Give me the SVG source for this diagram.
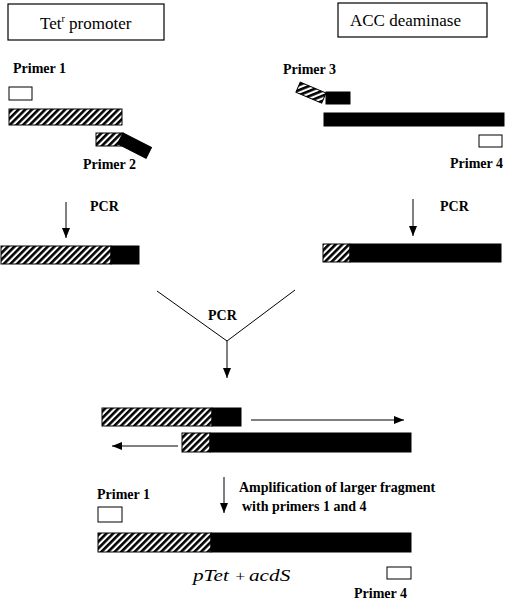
<svg xmlns="http://www.w3.org/2000/svg" width="505" height="600" viewBox="0 0 505 600">
<defs>
<pattern id="hatch" patternUnits="userSpaceOnUse" width="4.7" height="4.7" patternTransform="rotate(45)">
<rect x="0" y="0" width="4.7" height="4.7" fill="#fff"/>
<rect x="0" y="0" width="2.6" height="4.7" fill="#000"/>
</pattern>
<marker id="ah" markerUnits="userSpaceOnUse" markerWidth="10" markerHeight="10" viewBox="0 0 10 10" refX="10" refY="5" orient="auto">
<path d="M0,1 L10,5 L0,9 Z" fill="#000"/>
</marker>
<style>
.lbl{font-family:"Liberation Serif","Times New Roman","DejaVu Serif",serif;fill:#000}
.b{font-weight:bold;font-size:14px}
.box{fill:#fff;stroke:#000;stroke-width:1.2}
.h{fill:url(#hatch);stroke:#000;stroke-width:1}
.k{fill:#000;stroke:#000;stroke-width:1}
.pb{fill:#fff;stroke:#000;stroke-width:1}
.ln{fill:none;stroke:#000;stroke-width:1}
</style>
</defs>
<rect width="505" height="600" fill="#fff"/>

<g id="tet-promoter">
<rect class="box" x="8" y="4" width="156" height="36"/>
<text class="lbl" x="40" y="29" font-size="17">Tet<tspan font-size="10" dy="-7">r</tspan><tspan dy="7"> promoter</tspan></text>
</g>

<g id="acc-deaminase">
<rect class="box" x="338" y="3" width="149" height="34"/>
<text class="lbl" x="350" y="26" font-size="17">ACC deaminase</text>
</g>

<g id="left-template">
<text class="lbl b" x="13" y="73">Primer 1</text>
<rect class="pb" x="9" y="87" width="23" height="13"/>
<rect class="h" x="9" y="109" width="113" height="16"/>
<rect class="h" x="96" y="133" width="27" height="13"/>
<rect class="k" x="0" y="0" width="32" height="12" transform="translate(123,133) rotate(27)"/>
<text class="lbl b" x="83" y="169">Primer 2</text>
</g>

<g id="right-template">
<text class="lbl b" x="283" y="74">Primer 3</text>
<rect class="h" x="-28" y="0" width="28" height="11" transform="translate(326,93) rotate(23)"/>
<rect class="k" x="326" y="92" width="24" height="12"/>
<rect class="k" x="324" y="113" width="180" height="13"/>
<rect class="pb" x="479" y="135" width="23" height="12"/>
<text class="lbl b" x="450" y="168">Primer 4</text>
</g>

<g id="left-product">
<rect class="h" x="1" y="246" width="110" height="18"/>
<rect class="k" x="111" y="246" width="28" height="18"/>
</g>

<g id="right-product">
<rect class="h" x="323" y="244" width="27" height="18"/>
<rect class="k" x="350" y="244" width="151" height="18"/>
</g>

<g id="overlap">
<rect class="h" x="102" y="408" width="110" height="18"/>
<rect class="k" x="212" y="408" width="29" height="18"/>
<rect class="h" x="182" y="433" width="28" height="19"/>
<rect class="k" x="210" y="433" width="201" height="19"/>
</g>

<g id="final-product">
<text class="lbl b" x="97" y="499">Primer 1</text>
<rect class="pb" x="98" y="507" width="24" height="15"/>
<rect class="h" x="98" y="533" width="113" height="19"/>
<rect class="k" x="211" y="533" width="200" height="19"/>
<text class="lbl" font-size="17" font-style="italic" transform="translate(193,581) scale(1.25,1)"><tspan x="0" y="0">pTet</tspan><tspan x="33" y="0" font-size="14">+</tspan><tspan x="44.8" y="0">acdS</tspan></text>
<rect class="pb" x="387" y="567" width="24" height="12"/>
<text class="lbl b" x="354" y="598">Primer 4</text>
</g>

<g id="connectors">
<line class="ln" x1="66" y1="202" x2="66" y2="238" marker-end="url(#ah)"/>
<text class="lbl b" x="90" y="211" font-size="13.5">PCR</text>
<line class="ln" x1="413" y1="199" x2="413" y2="236" marker-end="url(#ah)"/>
<text class="lbl b" x="440" y="211" font-size="13.5">PCR</text>
<polyline class="ln" points="157,291 227,341 295,290"/>
<line class="ln" x1="227" y1="341" x2="227" y2="378" marker-end="url(#ah)"/>
<text class="lbl b" x="208" y="320" font-size="13.5">PCR</text>
<line class="ln" x1="251" y1="420" x2="404" y2="420" marker-end="url(#ah)"/>
<line class="ln" x1="178" y1="446" x2="112" y2="446" marker-end="url(#ah)"/>
<line class="ln" x1="224" y1="477" x2="224" y2="513" marker-end="url(#ah)"/>
<text class="lbl b" x="239" y="492" font-size="14.4">Amplification of larger fragment</text>
<text class="lbl b" x="242" y="511" font-size="14.4">with primers 1 and 4</text>
</g>
</svg>
